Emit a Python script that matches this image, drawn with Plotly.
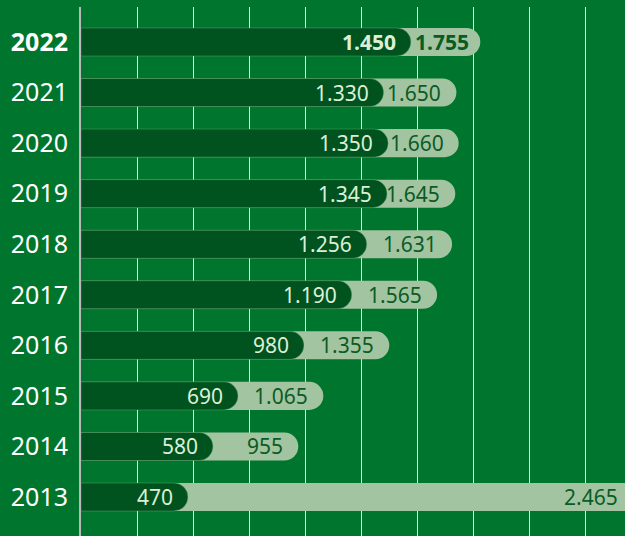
import plotly.graph_objects as go

years = ["2013", "2014", "2015", "2016", "2017", "2018", "2019", "2020", "2021", "2022"]
inner_values = [470, 580, 690, 980, 1190, 1256, 1345, 1350, 1330, 1450]
outer_values = [2465, 955, 1065, 1355, 1565, 1631, 1645, 1660, 1650, 1755]
inner_labels = ["470", "580", "690", "980", "1.190", "1.256", "1.345", "1.350", "1.330", "1.450"]
outer_labels = ["2.465", "955", "1.065", "1.355", "1.565", "1.631", "1.645", "1.660", "1.650", "1.755"]
highlight_year = "2022"

BG = "#00752d"
DARK = "#00531f"
LIGHT = "#a3c4a1"
DARK_TXT = "#0a5c25"
PALE_TXT = "#dcefd6"
FONT = "Noto Sans"
XMAX = 2391
GRID_STEP = 246.15
YRANGE = [-0.771, 9.692]

fig = go.Figure()
fig.add_trace(go.Bar(
    y=years, x=outer_values, orientation="h",
    marker=dict(color=LIGHT, cornerradius=14, line=dict(width=0)),
    hoverinfo="skip", showlegend=False, yaxis="y",
))
fig.add_trace(go.Bar(
    y=years, x=inner_values, orientation="h",
    marker=dict(color=DARK, cornerradius=14,
                line=dict(width=1, color="rgba(120,190,130,0.35)")),
    hoverinfo="skip", showlegend=False, yaxis="y2",
))

annotations = []
for i, (y, v, lab) in enumerate(zip(years, inner_values, inner_labels)):
    b = y == highlight_year
    annotations.append(dict(
        x=v, y=i, xref="x", yref="y", text=f"<b>{lab}</b>" if b else lab,
        showarrow=False, xanchor="right", yanchor="middle", xshift=-13,
        font=dict(family=FONT, size=21, color=PALE_TXT),
    ))
for i, (y, v, lab) in enumerate(zip(years, outer_values, outer_labels)):
    b = y == highlight_year
    annotations.append(dict(
        x=min(v, XMAX), y=i, xref="x", yref="y",
        text=f"<b>{lab}</b>" if b else lab,
        showarrow=False, xanchor="right", yanchor="middle",
        xshift=(-9 if b else -13) if v < XMAX else -5,
        font=dict(family=FONT, size=21, color=DARK_TXT),
    ))

ticktext = [f"<b>{y}</b>" if y == highlight_year else y for y in years]

fig.update_layout(
    width=625, height=536,
    margin=dict(l=81, r=0, t=7, b=0),
    paper_bgcolor=BG, plot_bgcolor=BG,
    barmode="overlay", bargap=0.445,
    annotations=annotations,
    xaxis=dict(range=[0, XMAX], dtick=GRID_STEP, tick0=0, showticklabels=False,
               showgrid=True, gridcolor="#e6e6e6", gridwidth=1,
               zeroline=False, fixedrange=True),
    yaxis=dict(type="category", categoryorder="array", categoryarray=years,
               tickmode="array", tickvals=years, ticktext=ticktext,
               range=YRANGE, showgrid=False, zeroline=False,
               showline=True, linecolor="#b9b9b9", linewidth=2,
               ticks="", ticklabelstandoff=6,
               tickfont=dict(family=FONT, size=25, color="white"),
               fixedrange=True),
    yaxis2=dict(type="category", categoryorder="array", categoryarray=years,
                overlaying="y", range=YRANGE, visible=False,
                showgrid=False, zeroline=False, fixedrange=True),
)

fig.write_html("out.html", config={"displayModeBar": False},
               post_script="document.body.style.margin='0';document.body.style.background='%s';" % BG)
